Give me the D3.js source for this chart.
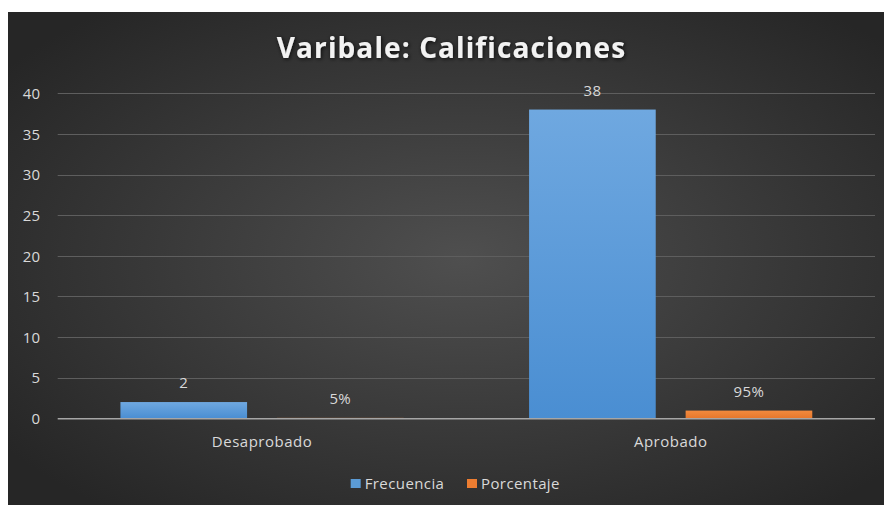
<!DOCTYPE html>
<html><head><meta charset="utf-8">
<script src="https://cdn.jsdelivr.net/npm/d3@7"></script>
<style>
html,body{margin:0;padding:0;background:#fff;}
svg{display:block;}
text{font-family:"Open Sans","Noto Sans",sans-serif;}
</style></head>
<body>
<script>
const categories = ["Desaprobado", "Aprobado"];
const seriesNames = ["Frecuencia", "Porcentaje"];
const frecuencia = [2, 38];
const porcentaje = [0.05, 0.95];
const porcentajeLabels = ["5%", "95%"];
const yTicks = [0, 5, 10, 15, 20, 25, 30, 35, 40];
const title = "Varibale: Calificaciones";

const W = 884, H = 505;
const svg = d3.select("body").append("svg").attr("width", W).attr("height", H);
const defs = svg.append("defs");

const bg = defs.append("radialGradient").attr("id","bg").attr("cx","52%").attr("cy","50%").attr("r","65%");
bg.append("stop").attr("offset","0%").attr("stop-color","#4f4f4f");
bg.append("stop").attr("offset","100%").attr("stop-color","#262626");

const gBlue = defs.append("linearGradient").attr("id","gBlue").attr("x1",0).attr("y1",0).attr("x2",0).attr("y2",1);
gBlue.append("stop").attr("offset","0%").attr("stop-color","#6fa8e0");
gBlue.append("stop").attr("offset","100%").attr("stop-color","#4a8ed2");
const gOr = defs.append("linearGradient").attr("id","gOr").attr("x1",0).attr("y1",0).attr("x2",0).attr("y2",1);
gOr.append("stop").attr("offset","0%").attr("stop-color","#f28a3e");
gOr.append("stop").attr("offset","100%").attr("stop-color","#e6772c");

const sh = defs.append("filter").attr("id","glow").attr("x","-10%").attr("y","-30%").attr("width","120%").attr("height","160%");
sh.append("feGaussianBlur").attr("in","SourceAlpha").attr("stdDeviation",2).attr("result","b");
sh.append("feOffset").attr("in","b").attr("dx",1).attr("dy",1).attr("result","o");
sh.append("feComponentTransfer").attr("in","o").attr("result","o2").append("feFuncA").attr("type","linear").attr("slope",0.8);
const m = sh.append("feMerge");
m.append("feMergeNode").attr("in","o2");
m.append("feMergeNode").attr("in","SourceGraphic");

svg.append("rect").attr("x",8).attr("y",12).attr("width",W-8).attr("height",H-12).attr("fill","url(#bg)");

const pLeft = 57.7, pRight = 875, pTop = 93.3, pBottom = 418.3;
const y = d3.scaleLinear().domain([0,40]).range([pBottom, pTop]);
const x0 = d3.scaleBand().domain(categories).range([pLeft, pRight]).paddingInner(0.307).paddingOuter(0.1535);
const x1 = d3.scaleBand().domain(seriesNames).range([0, x0.bandwidth()]).paddingInner(0.191).paddingOuter(0);

// gridlines
svg.append("g").selectAll("line").data(yTicks.filter(d=>d>0)).join("line")
  .attr("x1", pLeft).attr("x2", pRight).attr("y1", d=>Math.round(y(d))+0.5).attr("y2", d=>Math.round(y(d))+0.5)
  .attr("stroke","#5e5e5e").attr("stroke-width",1);

// y axis labels
const yAxis = d3.axisLeft(y).tickValues(yTicks).tickSize(0).tickPadding(0);
const ya = svg.append("g").attr("transform",`translate(40,0)`).call(yAxis);
ya.select(".domain").remove();
ya.selectAll("text").attr("fill","#d9d9d9").style("font-size","15px").attr("dy","0.35em")
  .style("font-family",'"Open Sans","Noto Sans",sans-serif');

const data = categories.map((c,i)=>({cat:c, vals:[
  {s:"Frecuencia", v:frecuencia[i], label:String(frecuencia[i]), fill:"url(#gBlue)"},
  {s:"Porcentaje", v:porcentaje[i], label:porcentajeLabels[i], fill:"url(#gOr)"}]}));

const groups = svg.append("g").selectAll("g").data(data).join("g")
  .attr("transform", d=>`translate(${x0(d.cat)},0)`);
groups.selectAll("rect").data(d=>d.vals).join("rect")
  .attr("x", d=>x1(d.s)).attr("width", x1.bandwidth())
  .attr("y", d=>y(d.v)).attr("height", d=>pBottom - y(d.v))
  .attr("fill", d=>d.fill);
groups.selectAll("text").data(d=>d.vals).join("text")
  .attr("x", d=>x1(d.s)+x1.bandwidth()/2).attr("y", d=>y(d.v)-14)
  .attr("text-anchor","middle").attr("fill","#d9d9d9").style("font-size","15px")
  .style("letter-spacing","0.4px")
  .text(d=>d.label);

// baseline
svg.append("line").attr("x1",pLeft).attr("x2",pRight).attr("y1",pBottom+0.5).attr("y2",pBottom+0.5)
  .attr("stroke","#a6a6a6").attr("stroke-width",1.5);

// x axis labels
const xAxis = d3.axisBottom(x0).tickSize(0).tickPadding(0);
const xa = svg.append("g").attr("transform",`translate(0,${pBottom})`).call(xAxis);
xa.select(".domain").remove();
xa.selectAll("text").attr("fill","#d9d9d9").style("font-size","15px").attr("dy",null).attr("y",29)
  .style("letter-spacing","0.5px").style("font-family",'"Open Sans","Noto Sans",sans-serif');

// title
svg.append("text").attr("x",451.5).attr("y",58).attr("text-anchor","middle")
  .attr("fill","#f2f2f2").style("font-size","28px").style("font-weight","bold")
  .style("letter-spacing","1.1px").attr("filter","url(#glow)").text(title);

// legend
const legColors = ["#5b9bd5","#ed7d31"];
const legX = [350.7, 467];
const lg = svg.append("g").selectAll("g").data(seriesNames).join("g")
  .attr("transform",(d,i)=>`translate(${legX[i]},479)`);
lg.append("rect").attr("width",10).attr("height",9).attr("fill",(d,i)=>legColors[i]);
lg.append("text").attr("x",14).attr("y",9.5).attr("fill","#d9d9d9").style("font-size","15px")
  .style("letter-spacing","0.4px").text(d=>d);
</script>
</body></html>
